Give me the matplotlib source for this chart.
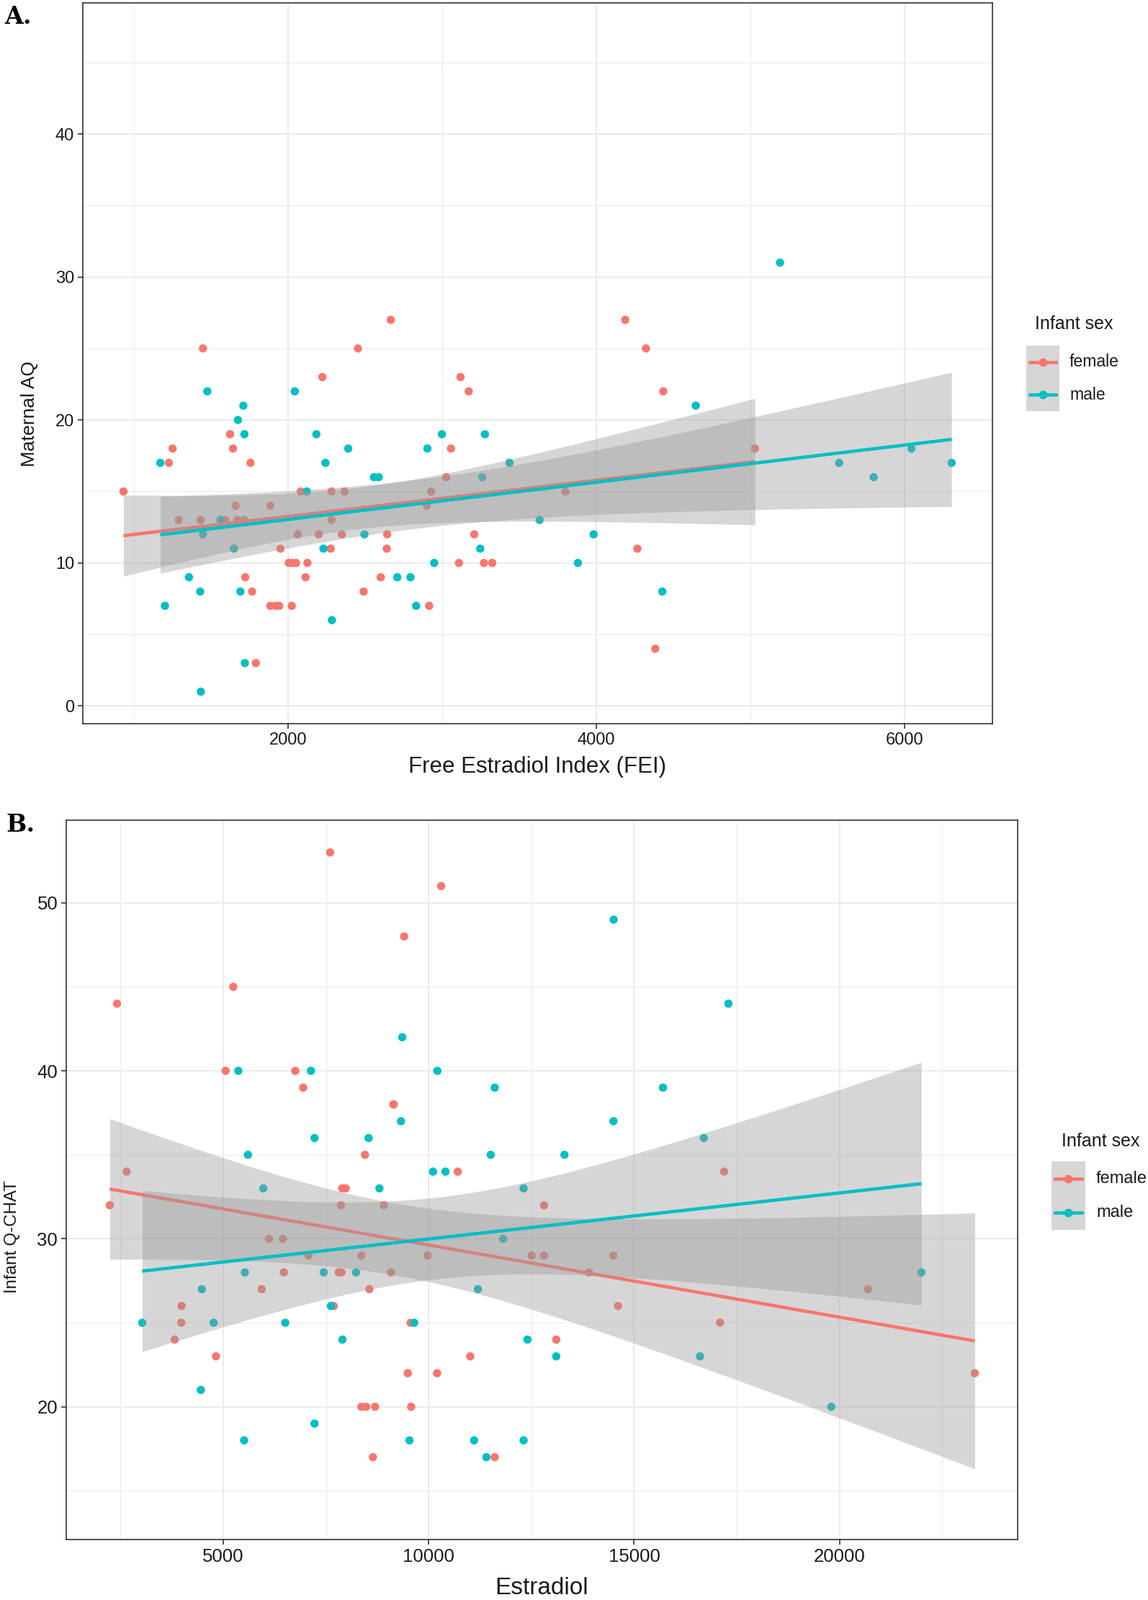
import numpy as np
import matplotlib
matplotlib.use("Agg")
import matplotlib.pyplot as plt
from matplotlib.patches import Rectangle
from matplotlib.lines import Line2D

# ---------------- data ----------------
# Panel A: Maternal AQ vs Free Estradiol Index (FEI)
a_female_fei = [930, 1446, 2452, 2221, 1249, 1225, 1622, 1641, 1754, 2081,
                2280, 2365, 1658, 1883, 1288, 1431, 1591, 1669, 1712, 2280,
                2061, 2197, 2348, 1949, 2275, 2003, 2026, 2050, 2124, 1720,
                2112, 1765, 1883, 1917, 1941, 2022, 1789, 2665, 3118, 3171,
                3056, 3025, 2927, 3799, 2899, 2642, 3207, 2639, 3108, 3270,
                3324, 2600, 2489, 2914, 4187, 4322, 4434, 5029, 4266, 4382]
a_female_aq = [15, 25, 25, 23, 18, 17, 19, 18, 17, 15,
               15, 15, 14, 14, 13, 13, 13, 13, 13, 13,
               12, 12, 12, 11, 11, 10, 10, 10, 10, 9,
               9, 8, 7, 7, 7, 7, 3, 27, 23, 22,
               18, 16, 15, 15, 14, 12, 12, 11, 10, 10,
               10, 9, 8, 7, 27, 25, 22, 18, 11, 4]
a_male_fei = [2120, 1560, 1446, 1647, 2228, 1355, 1428, 1689, 1199, 2283,
              1718, 1432, 1474, 2042, 1708, 1673, 1715, 2182, 2389, 1169,
              2241, 2997, 3276, 2903, 3436, 2556, 2587, 3259, 3631, 2494,
              3982, 3246, 2947, 3880, 2707, 2793, 2830, 5192, 4645, 5576,
              5800, 6045, 6306, 4428]
a_male_aq = [15, 13, 12, 11, 11, 9, 8, 8, 7, 6,
             3, 1, 22, 22, 21, 20, 19, 19, 18, 17,
             17, 19, 19, 18, 17, 16, 16, 16, 13, 12,
             12, 11, 10, 10, 9, 9, 7, 31, 21, 17,
             16, 18, 17, 8]

# Panel B: Infant Q-CHAT vs Estradiol
b_female_e2 = [7602, 2415, 5246, 5058, 6754, 6947, 9140, 8450, 2649, 7895,
               7982, 2240, 7866, 8906, 6111, 6450, 7076, 8363, 6474, 7810,
               7880, 9082, 5936, 8556, 3988, 7690, 3977, 3819, 4825, 8363,
               8480, 8696, 8643, 10304, 9403, 9152, 10708, 12807, 9971, 12503,
               12807, 14491, 13901, 14608, 9561, 13105, 11012, 9491, 10205, 9573,
               11608, 17190, 20693, 17091, 23290]
b_female_qchat = [53, 44, 45, 40, 40, 39, 38, 35, 34, 33,
                  33, 32, 32, 32, 30, 30, 29, 29, 28, 28,
                  28, 28, 27, 27, 26, 26, 25, 24, 23, 20,
                  20, 20, 17, 51, 48, 38, 34, 32, 29, 29,
                  29, 29, 28, 26, 25, 24, 23, 22, 22, 20,
                  17, 34, 27, 25, 22]
b_male_e2 = [5368, 7135, 7222, 8538, 5602, 5977, 8801, 5526, 7444, 8234,
             4480, 7620, 3029, 4766, 6509, 7901, 4456, 7222, 5509, 14503,
             9357, 10211, 11608, 15702, 9327, 14497, 11509, 13304, 10105, 10409,
             12310, 16696, 11813, 11199, 9649, 12403, 13105, 9532, 11105, 12310,
             11404, 16602, 17295, 21991, 19798]
b_male_qchat = [40, 40, 36, 36, 35, 33, 33, 28, 28, 28,
                27, 26, 25, 25, 25, 24, 21, 19, 18, 49,
                42, 40, 39, 39, 37, 37, 35, 35, 34, 34,
                33, 36, 30, 27, 25, 24, 23, 18, 18, 18,
                17, 23, 44, 28, 20]

sex_labels = ["female", "male"]
legend_title = "Infant sex"

FEMALE = "#F8766D"
MALE = "#00BFC4"
RIBBON = "#999999"
GRID = "#EBEBEB"
BORDER = "#333333"
TXT = "#1A1A1A"

plt.rcParams["font.family"] = ["Liberation Sans", "DejaVu Sans"]

W, H = 1594, 2222
fig = plt.figure(figsize=(W / 100, H / 100), dpi=100)


def t975(df):
    z = 1.959964
    g1 = (z ** 3 + z) / 4.0
    g2 = (5 * z ** 5 + 16 * z ** 3 + 3 * z) / 96.0
    return z + g1 / df + g2 / df ** 2


def lm_band(x, y, n=120):
    x = np.asarray(x, float)
    y = np.asarray(y, float)
    b, a = np.polyfit(x, y, 1)
    xs = np.linspace(x.min(), x.max(), n)
    fit = a + b * xs
    resid = y - (a + b * x)
    dof = len(x) - 2
    s = np.sqrt((resid ** 2).sum() / dof)
    sxx = ((x - x.mean()) ** 2).sum()
    se = s * np.sqrt(1.0 / len(x) + (xs - x.mean()) ** 2 / sxx)
    t = t975(dof)
    return xs, fit, fit - t * se, fit + t * se


def panel(rect, groups, xlim, ylim, xmaj, xmin, ymaj, ymin, xlabel, ylabel,
          tick_fs, xlab_fs, ylab_fs, xlab_pad, ylab_pad, ylab_y):
    ax = fig.add_axes(rect)
    ax.set_facecolor("white")
    ax.set_xlim(*xlim)
    ax.set_ylim(*ylim)
    ax.set_xticks(xmaj)
    ax.set_xticks(xmin, minor=True)
    ax.set_yticks(ymaj)
    ax.set_yticks(ymin, minor=True)
    ax.grid(True, which="major", color=GRID, lw=1.5, zorder=0)
    ax.grid(True, which="minor", color=GRID, lw=0.8, zorder=0)
    ax.set_axisbelow(True)
    ax.tick_params(which="major", length=5, width=1.2, color=BORDER,
                   labelsize=tick_fs, labelcolor=TXT, pad=3.5)
    ax.tick_params(which="minor", length=0)
    for sp in ax.spines.values():
        sp.set_color(BORDER)
        sp.set_linewidth(1.2)
    # points
    for (x, y, c) in groups:
        ax.scatter(x, y, s=68, color=c, edgecolors="none", zorder=2)
    # smooth: ribbon then line, per group
    for i, (x, y, c) in enumerate(groups):
        xs, fit, lo, hi = lm_band(x, y)
        ax.fill_between(xs, lo, hi, color=RIBBON, alpha=0.4, lw=0, zorder=3 + 2 * i)
        ax.plot(xs, fit, color=c, lw=3.3, solid_capstyle="butt", zorder=4 + 2 * i)
    ax.set_xlabel(xlabel, fontsize=xlab_fs, color=TXT, labelpad=xlab_pad)
    ax.set_ylabel(ylabel, fontsize=ylab_fs, color=TXT, labelpad=ylab_pad)
    ax.yaxis.label.set_y(ylab_y)
    return ax


# Panel A
axA = panel([115 / W, 1 - 1005 / H, (1378 - 115) / W, (1005 - 3.5) / H],
            [(a_female_fei, a_female_aq, FEMALE), (a_male_fei, a_male_aq, MALE)],
            (666, 6571), (-1.24, 49.19),
            [2000, 4000, 6000], [1000, 3000, 5000],
            [0, 10, 20, 30, 40], [5, 15, 25, 35, 45],
            "Free Estradiol Index (FEI)", "Maternal AQ", 17, 22.5, 19, 8, 17, 0.43)

# Panel B
axB = panel([92 / W, 1 - 2137.7 / H, (1413 - 92) / W, (2137.7 - 1138.6) / H],
            [(b_female_e2, b_female_qchat, FEMALE), (b_male_e2, b_male_qchat, MALE)],
            (1180, 24334), (12.11, 54.94),
            [5000, 10000, 15000, 20000], [2500, 7500, 12500, 17500, 22500],
            [20, 30, 40, 50], [15, 25, 35, 45],
            "Estradiol", "Infant Q-CHAT", 18.5, 24, 17.3, 12, 17, 0.42)

# overlay in pixel coordinates for legends and panel letters
ov = fig.add_axes([0, 0, 1, 1], facecolor="none")
ov.set_xlim(0, W)
ov.set_ylim(H, 0)
ov.axis("off")


def legend(x_box, y_box, w_box, h_box, title_xy, text_x, fs_title, fs_lab):
    ov.text(title_xy[0], title_xy[1], legend_title, fontsize=fs_title, color=TXT,
            ha="left", va="center")
    ov.add_patch(Rectangle((x_box, y_box), w_box, h_box, facecolor="#D6D6D6",
                           edgecolor="none"))
    for k, (lab, c) in enumerate(zip(sex_labels, [FEMALE, MALE])):
        yc = y_box + h_box * (0.25 + 0.5 * k)
        ov.add_line(Line2D([x_box + 5, x_box + w_box - 5], [yc, yc], color=c, lw=3.3))
        ov.plot([x_box + w_box / 2], [yc], "o", color=c, ms=8.5, mec="none")
        ov.text(text_x, yc, lab, fontsize=fs_lab, color=TXT, ha="left", va="center")


legend(1425, 480, 46, 91, (1437, 450), 1485, 18, 16.5)
legend(1460, 1613, 47, 95, (1474, 1585), 1522, 18, 17)

ov.text(6, 33, "A.", fontsize=24, fontweight="bold", family="DejaVu Serif",
        color="black", ha="left", va="baseline")
ov.text(8, 1155, "B.", fontsize=24, fontweight="bold", family="DejaVu Serif",
        color="black", ha="left", va="baseline")

fig.savefig("out.png", dpi=100)
